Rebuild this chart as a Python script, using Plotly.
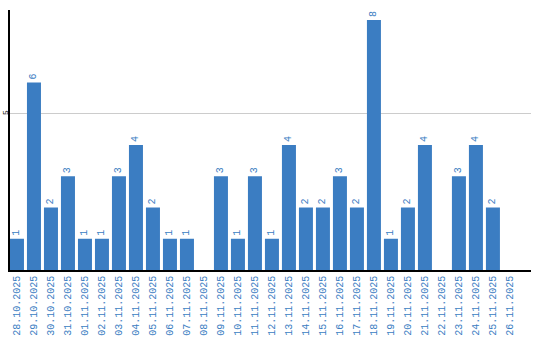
import plotly.graph_objects as go

dates = ["28.10.2025", "29.10.2025", "30.10.2025", "31.10.2025", "01.11.2025", "02.11.2025",
         "03.11.2025", "04.11.2025", "05.11.2025", "06.11.2025", "07.11.2025", "08.11.2025",
         "09.11.2025", "10.11.2025", "11.11.2025", "12.11.2025", "13.11.2025", "14.11.2025",
         "15.11.2025", "16.11.2025", "17.11.2025", "18.11.2025", "19.11.2025", "20.11.2025",
         "21.11.2025", "22.11.2025", "23.11.2025", "24.11.2025", "25.11.2025", "26.11.2025"]
counts = [1, 6, 2, 3, 1, 1, 3, 4, 2, 1, 1, 0, 3, 1, 3, 1, 4, 2, 2, 3, 2, 8, 1, 2, 4, 0, 3, 4, 2, 0]
labels = [str(v) if v else "" for v in counts]

blue = "#3b7dc2"
fig = go.Figure(go.Bar(
    x=dates, y=counts, text=labels, textposition="outside", textangle=-90,
    textfont=dict(family="Liberation Mono", size=10, color=blue),
    marker=dict(color=blue, line=dict(width=0)), cliponaxis=False,
))
fig.update_layout(
    width=540, height=340, margin=dict(l=10, r=9, t=10, b=70),
    plot_bgcolor="white", paper_bgcolor="white", bargap=0.176, showlegend=False,
)
fig.update_xaxes(type="category", range=[-0.41, 30.24], tickangle=-90, showline=True,
                 linecolor="black", linewidth=1.5,
                 tickfont=dict(family="Liberation Mono", size=10, color=blue), ticks="",
                 showgrid=False, automargin=False)
fig.update_yaxes(range=[0, 8.32], tickvals=[5], ticktext=["5"], tickangle=-90, showline=True,
                 linecolor="black", linewidth=1.5, gridcolor="#cccccc", zeroline=False,
                 tickfont=dict(family="Liberation Mono", size=8, color="black"), ticks="",
                 automargin=False, ticklabelstandoff=-3)
fig.write_html("out.html")
